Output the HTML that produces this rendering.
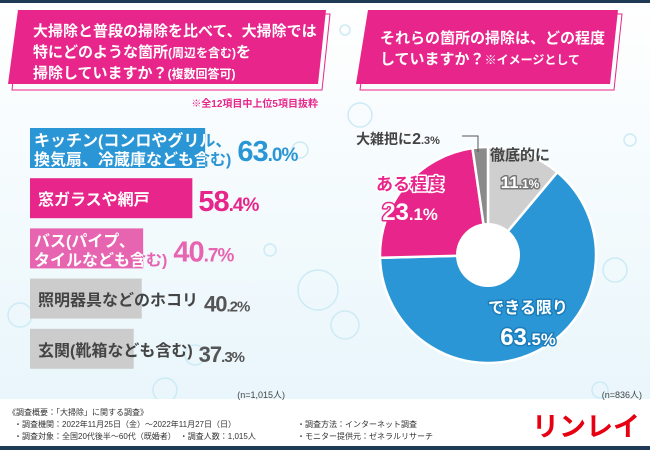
<!DOCTYPE html>
<html><head><meta charset="utf-8"><style>
html,body{margin:0;padding:0;width:650px;height:450px;overflow:hidden;background:#fff}
svg{display:block;font-family:"Liberation Sans","Noto Sans CJK JP",sans-serif}
</style></head><body>
<svg id="c" width="650" height="450" viewBox="0 0 650 450">
<defs>
<linearGradient id="bg" x1="0" y1="0" x2="0" y2="1"><stop offset="0" stop-color="#ffffff"/><stop offset="1" stop-color="#e9f6fb"/></linearGradient>
</defs>
<rect x="0" y="0" width="650" height="400" fill="url(#bg)"/>
<g id="bubbles" fill="none" stroke="#cdebf5" stroke-width="1.5">
<circle cx="345" cy="325" r="14"/><circle cx="318" cy="290" r="20"/><circle cx="20" cy="315" r="12"/><circle cx="300" cy="150" r="8"/>
<circle cx="615" cy="270" r="12"/><circle cx="360" cy="115" r="12"/><circle cx="270" cy="250" r="6"/><circle cx="630" cy="140" r="6"/>
<circle cx="195" cy="355" r="10"/><circle cx="600" cy="390" r="8"/><circle cx="165" cy="390" r="12"/><circle cx="345" cy="30" r="5"/>
</g>
<rect x="0" y="0" width="650" height="3" fill="#1f3a55"/>
<rect x="0" y="446" width="650" height="4" fill="#1f3a55"/>
<rect x="0" y="399" width="650" height="47" fill="#fff"/>

<g>
<polygon points="20,14 330,14 322,90 12,90" fill="none" stroke="#e8258a" stroke-width="1"/>
<polygon points="18,10 326,10 318,84 8,84" fill="#e8258a"/>
<text x="33" y="36" font-size="15" font-weight="bold" fill="#fff">大掃除と普段の掃除を比べて、大掃除では</text>
<text x="33" y="57" font-size="15" font-weight="bold" fill="#fff">特にどのような箇所<tspan font-size="12">(周辺を含む)</tspan>を</text>
<text x="33" y="78" font-size="15" font-weight="bold" fill="#fff">掃除していますか？<tspan font-size="12">(複数回答可)</tspan></text>
</g>
<text x="318" y="107" font-size="10" font-weight="bold" fill="#e8258a" text-anchor="end">※全12項目中上位5項目抜粋</text>

<g>
<polygon points="370,14 622,14 614,90 360,90" fill="none" stroke="#e8258a" stroke-width="1"/>
<polygon points="368,10 618,10 610,84 356,84" fill="#e8258a"/>
<text x="380" y="43" font-size="15" font-weight="bold" fill="#fff">それらの箇所の掃除は、どの程度</text>
<text x="380" y="64" font-size="15" font-weight="bold" fill="#fff">していますか？<tspan font-size="12">※イメージとして</tspan></text>
</g>

<g id="bars"></g>
<text x="285" y="398" font-size="9" fill="#444" text-anchor="end">(n=1,015人)</text>

<g id="pie"></g>
<text x="642" y="398" font-size="9" fill="#444" text-anchor="end">(n=836人)</text>

<g font-size="8" fill="#333">
<text x="8" y="415">《調査概要：「大掃除」に関する調査》</text>
<text x="14" y="427">・調査機関：2022年11月25日（金）～2022年11月27日（日）</text>
<text x="14" y="439">・調査対象：全国20代後半～60代（既婚者）　・調査人数：1,015人</text>
<text x="297" y="427">・調査方法：インターネット調査</text>
<text x="297" y="439">・モニター提供元：ゼネラルリサーチ</text>
</g>
<text x="640" y="436" font-size="27" font-weight="bold" fill="#e60012" text-anchor="end">リンレイ</text>
</svg>
<script>
const NS="http://www.w3.org/2000/svg";
const barLabels1=["キッチン(コンロやグリル、","窓ガラスや網戸","バス(パイプ、","照明器具などのホコリ","玄関(靴箱なども含む)"];
const barLabels2=["換気扇、冷蔵庫なども含む)","","タイルなども含む)","",""];
const barValues=[63.0,58.4,40.7,40.2,37.3];
const barColors=["#2a96d6","#e8258a","#e664b0","#cccccc","#cccccc"];
const pieLabels=["徹底的に","できる限り","ある程度","大雑把に"];
const pieValues=[11.1,63.5,23.1,2.3];
const pieColors=["#cfcfcf","#2a96d6","#e8258a","#8a8a8a"];
function mk(t,a,p){const e=document.createElementNS(NS,t);for(const k in a)e.setAttribute(k,a[k]);p.appendChild(e);return e;}
const bars=document.getElementById('bars');
const defs=document.querySelector('defs');
const x0=30,scale=2.78;
const xw=v=>v*scale;
barValues.forEach((v,i)=>{
  const y=128+i*50.2;
  const r=mk('rect',{x:x0,y:y,width:xw(v),height:40,fill:barColors[i]},bars);
  
  
  const cp=mk('clipPath',{id:'cp'+i},defs);
  mk('rect',{x:x0,y:y,width:xw(v),height:40},cp);
  const gray=i>=3;
  const two=barLabels2[i]!=="";
  const lines=two?[[barLabels1[i],y+18],[barLabels2[i],y+37]]:[[barLabels1[i],y+27]];
  const lx=two?x0+4:x0+8;
  let endX=x0+xw(v);
  lines.forEach(([s,ly])=>{
    // colored version (visible outside bar)
    const t=mk('text',{x:lx,y:ly,'font-size':16,'font-weight':'bold',fill:gray?'#444':barColors[i]},bars);
    t.textContent=s;
    
    
    endX=Math.max(endX,lx+t.getComputedTextLength());
    if(!gray){
      const w=mk('text',{x:lx,y:ly,'font-size':16,'font-weight':'bold',fill:'#fff','clip-path':'url(#cp'+i+')'},bars);
      w.textContent=s;
      
      
    }
  });
  const pc=gray?'#555':barColors[i];
  const s=v.toFixed(1).split('.');
  const p=mk('text',{x:endX+6,y:y+33,'font-size':gray?22:29,'font-weight':'bold',fill:pc,'letter-spacing':-1},bars);
  
  
  p.innerHTML=s[0]+'<tspan font-size="'+(gray?15:19)+'">.'+s[1]+'%</tspan>';
});
const pie=document.getElementById('pie');
const cx=488,cy=255,R=108,r0=32;
const tot=pieValues.reduce((a,b)=>a+b,0);
let a=0;
const pt=(ang,rad)=>[cx+rad*Math.sin(ang),cy-rad*Math.cos(ang)];
pieValues.forEach((v,i)=>{
  const a1=a+v/tot*2*Math.PI;
  const [x1,y1]=pt(a,R),[x2,y2]=pt(a1,R);
  const lg=(a1-a)>Math.PI?1:0;
  const sl=mk('path',{d:`M${cx},${cy}L${x1},${y1}A${R},${R} 0 ${lg} 1 ${x2},${y2}Z`,fill:pieColors[i],stroke:'#fff','stroke-width':2.5},pie);
  
  
  a=a1;
});
const hole=mk('circle',{cx:cx,cy:cy,r:r0,fill:'#fff'},pie);


function lab(x,y,txt,size,fill,stroke,name){
  const t=mk('text',{x:x,y:y,'font-size':size,'font-weight':'bold',fill:fill,stroke:stroke,'stroke-width':stroke==='none'?0:3,'paint-order':'stroke','stroke-linejoin':'round','text-anchor':'middle'},pie);
  t.innerHTML=txt;
  
  
}
const pct=v=>{const s=v.toFixed(1).split('.');return s[0]+'<tspan font-size="0.7em">.'+s[1]+'%</tspan>';};
lab(520,160,pieLabels[0],15,'#444','none','label-thorough');
lab(520,188,pct(pieValues[0]),17,'#fff','#777','value-thorough');
lab(528,313,pieLabels[1],16,'#fff','#1b7dbb','label-best-effort');
lab(528,345,pct(pieValues[1]),24,'#fff','#1b7dbb','value-best-effort');
lab(410,190,pieLabels[2],17,'#e8258a','#fff','label-somewhat');
lab(410,220,pct(pieValues[2]),24,'#fff','#e8258a','value-somewhat');
lab(398,144,pieLabels[3]+'<tspan font-size="16">'+pieValues[3].toFixed(1).split('.')[0]+'</tspan><tspan font-size="11">.'+pieValues[3].toFixed(1).split('.')[1]+'%</tspan>','14','#444','none','label-rough');
const ln=mk('polyline',{points:'462,136 478,136 478,152',fill:'none',stroke:'#555','stroke-width':1},pie);


</script>
</body></html>
